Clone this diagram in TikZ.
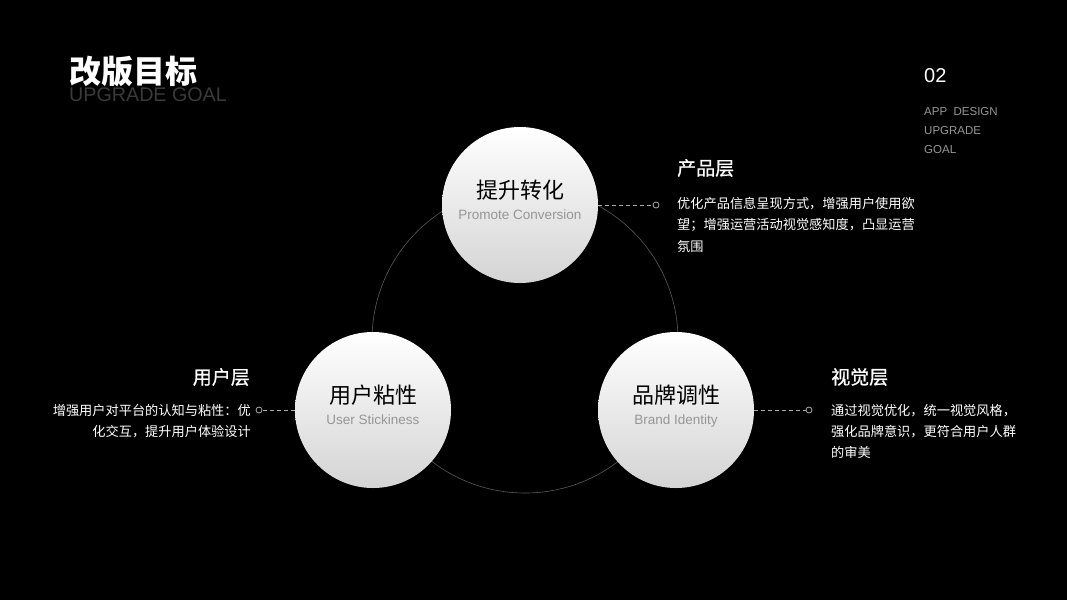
\documentclass[tikz,border=0pt]{standalone}
\usepackage{fontspec}
\usepackage{xcolor}
\usepackage{tikz}
\setmainfont{Liberation Sans}
\newfontfamily\cjk{Noto Sans CJK SC}
\newfontfamily\cjkmid[FakeBold=0.9]{Noto Sans CJK SC}
\definecolor{RingGray}{RGB}{88,88,88}
\definecolor{SubGray}{RGB}{150,150,150}
\definecolor{ShadowText}{RGB}{58,58,58}
\definecolor{DashGray}{RGB}{170,170,170}
\definecolor{BallBottom}{RGB}{212,212,212}

\begin{document}
\begin{tikzpicture}[x=1pt,y=-1pt,
  ball/.style={circle,minimum size=156pt,inner sep=0pt,top color=white,bottom color=BallBottom,align=center},
  head/.style={text=white,inner sep=0pt,font=\cjkmid\fontsize{19}{22}\selectfont},
  body/.style={text=white,inner sep=0pt,font=\cjk\fontsize{13.2}{21.3}\selectfont},
  dot/.style={circle,draw=DashGray,line width=0.8pt,minimum size=6pt,inner sep=0pt},
  dashline/.style={DashGray,line width=0.8pt,dash pattern=on 4pt off 3pt}
]
\fill[black] (0,0) rectangle (1067,600);
\useasboundingbox (0,0) rectangle (1067,600);

\node[anchor=west,text=ShadowText,inner sep=0pt,font=\fontsize{19.7}{22}\selectfont] (sub) at (69,95) {UPGRADE GOAL};
\node[anchor=west,text=white,inner sep=0pt,font=\cjk\bfseries\fontsize{32}{36}\selectfont] (title) at (69,72) {改版目标};

\node[anchor=west,text=white,inner sep=0pt,font=\fontsize{20}{24}\selectfont] (num) at (924,76) {02};
\node[anchor=north west,text=SubGray,inner sep=0pt,align=left,font=\fontsize{11.5}{19}\selectfont] (tag) at (924,107) {APP\ \ DESIGN\\UPGRADE\\GOAL};

\coordinate (ringc) at (525,340);
\draw[RingGray,line width=0.6pt] (ringc) circle (153);

\node[ball] (top) at (520,205) {{\cjk\fontsize{22}{26}\selectfont 提升转化}\\[9pt]{\fontsize{13.5}{16}\selectfont\color{SubGray}Promote Conversion}\\[-2pt]};
\node[ball] (left) at (373,410) {{\cjk\fontsize{22}{26}\selectfont 用户粘性}\\[9pt]{\fontsize{13.5}{16}\selectfont\color{SubGray}User Stickiness}\\[-2pt]};
\node[ball] (right) at (676,410) {{\cjk\fontsize{22}{26}\selectfont 品牌调性}\\[9pt]{\fontsize{13.5}{16}\selectfont\color{SubGray}Brand Identity}\\[-2pt]};

\node[dot] (ptop) at (656,205) {};
\node[dot] (pleft) at (259,410) {};
\node[dot] (pright) at (809,410) {};
\draw[dashline] (top.east) -- (ptop);
\draw[dashline] (left.west) -- (pleft);
\draw[dashline] (right.east) -- (pright);

\node[head,anchor=west] (htop) at (677,168) {产品层};
\node[body,anchor=north west,align=left] (btop) at (677,197) {优化产品信息呈现方式，增强用户使用欲\\望；增强运营活动视觉感知度，凸显运营\\氛围};

\node[head,anchor=east] (hleft) at (250,377) {用户层};
\node[body,anchor=north east,align=right] (bleft) at (251,404) {增强用户对平台的认知与粘性：优\\化交互，提升用户体验设计};

\node[head,anchor=west] (hright) at (831,377) {视觉层};
\node[body,anchor=north west,align=left] (bright) at (831,404) {通过视觉优化，统一视觉风格，\\强化品牌意识，更符合用户人群\\的审美};
\end{tikzpicture}
\end{document}
